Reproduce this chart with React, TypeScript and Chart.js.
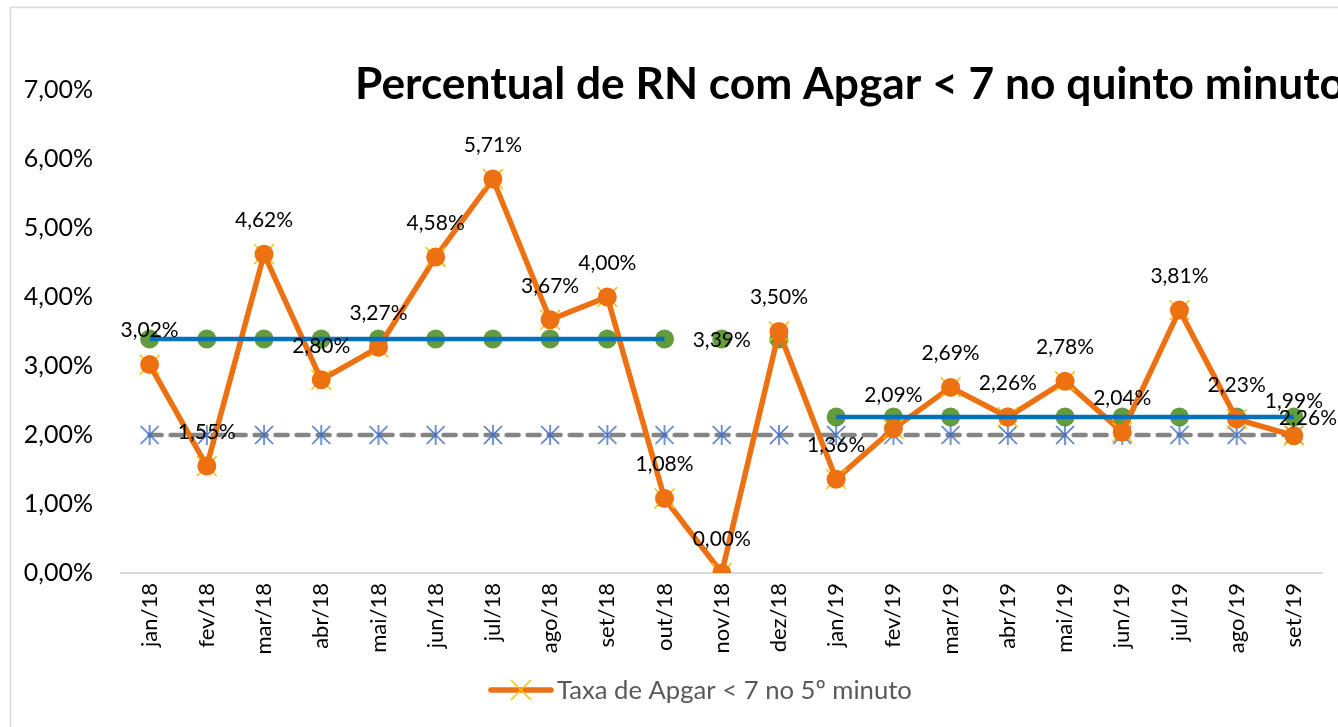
import React, { useEffect, useRef } from 'react';
import { Chart, registerables } from 'chart.js';

Chart.register(...registerables);

const FONT = 'Lato, "Open Sans", "DejaVu Sans", sans-serif';

const categories = [
  'jan/18', 'fev/18', 'mar/18', 'abr/18', 'mai/18', 'jun/18', 'jul/18', 'ago/18', 'set/18', 'out/18', 'nov/18', 'dez/18',
  'jan/19', 'fev/19', 'mar/19', 'abr/19', 'mai/19', 'jun/19', 'jul/19', 'ago/19', 'set/19',
];

const taxaApgar = [3.02, 1.55, 4.62, 2.80, 3.27, 4.58, 5.71, 3.67, 4.00, 1.08, 0.00, 3.50, 1.36, 2.09, 2.69, 2.26, 2.78, 2.04, 3.81, 2.23, 1.99];

const mediaPontos = [3.39, 3.39, 3.39, 3.39, 3.39, 3.39, 3.39, 3.39, 3.39, 3.39, 3.39, 3.39, 2.26, 2.26, 2.26, 2.26, 2.26, 2.26, 2.26, 2.26, 2.26];

const mediaLinha = [3.39, 3.39, 3.39, 3.39, 3.39, 3.39, 3.39, 3.39, 3.39, 3.39, null, null, 2.26, 2.26, 2.26, 2.26, 2.26, 2.26, 2.26, 2.26, 2.26];

const meta = [2, 2, 2, 2, 2, 2, 2, 2, 2, 2, 2, 2, 2, 2, 2, 2, 2, 2, 2, 2, 2];

const yTickValues = [0, 1, 2, 3, 4, 5, 6, 7];

const TITLE = 'Percentual de RN com Apgar < 7 no quinto minuto';
const LEGEND_LABEL = 'Taxa de Apgar < 7 no 5º minuto';

const ORANGE = '#ED7011';
const GREEN = '#649B3D';
const BLUE = '#0070C0';
const GRAY = '#858585';
const STAR_BLUE = '#4472C4';
const YELLOW = '#FFC000';

const fmt = (v: number) => v.toFixed(2).replace('.', ',') + '%';

function makeAsterisk(): HTMLCanvasElement {
  const c = document.createElement('canvas');
  c.width = 22;
  c.height = 22;
  const g = c.getContext('2d')!;
  g.strokeStyle = STAR_BLUE;
  g.lineWidth = 1.5;
  g.beginPath();
  g.moveTo(11, 1); g.lineTo(11, 21);
  g.moveTo(2, 2); g.lineTo(20, 20);
  g.moveTo(20, 2); g.lineTo(2, 20);
  g.stroke();
  return c;
}

const framePlugin = {
  id: 'frame',
  beforeDraw(chart: any) {
    const ctx = chart.ctx;
    ctx.save();
    ctx.fillStyle = '#ffffff';
    ctx.fillRect(0, 0, chart.width, chart.height);
    ctx.strokeStyle = '#D9D9D9';
    ctx.lineWidth = 1.5;
    ctx.strokeRect(10.5, 7.5, 3000, 3000);
    ctx.restore();
  },
  afterDraw(chart: any) {
    const ctx = chart.ctx;
    ctx.save();
    // title
    ctx.font = `bold 100px ${FONT}`;
    const tw = ctx.measureText(TITLE).width;
    const tSize = (100 * 990) / tw;
    ctx.font = `bold ${tSize}px ${FONT}`;
    ctx.fillStyle = '#000000';
    ctx.textAlign = 'left';
    ctx.textBaseline = 'alphabetic';
    ctx.fillText(TITLE, 355, 99);
    // legend
    const ly = 690;
    ctx.strokeStyle = ORANGE;
    ctx.lineWidth = 5.5;
    ctx.lineCap = 'round';
    ctx.beginPath();
    ctx.moveTo(491, ly);
    ctx.lineTo(551, ly);
    ctx.stroke();
    ctx.strokeStyle = YELLOW;
    ctx.lineWidth = 1.5;
    ctx.lineCap = 'butt';
    ctx.beginPath();
    ctx.moveTo(511, ly - 10); ctx.lineTo(531, ly + 10);
    ctx.moveTo(531, ly - 10); ctx.lineTo(511, ly + 10);
    ctx.stroke();
    ctx.font = `100px ${FONT}`;
    const lw = ctx.measureText(LEGEND_LABEL).width;
    const lSize = (100 * 355) / lw;
    ctx.font = `${lSize}px ${FONT}`;
    ctx.fillStyle = '#595959';
    ctx.textBaseline = 'middle';
    ctx.fillText(LEGEND_LABEL, 557, ly + 1);
    ctx.restore();
  },
};

const dataLabelPlugin = {
  id: 'dataLabels',
  afterDatasetsDraw(chart: any, _args: any, opts: any) {
    const ctx = chart.ctx;
    ctx.save();
    ctx.font = `21px ${FONT}`;
    ctx.fillStyle = '#000000';
    ctx.textAlign = 'center';
    ctx.textBaseline = 'middle';
    (opts.specs || []).forEach((spec: any) => {
      const meta = chart.getDatasetMeta(spec.dataset);
      const data = chart.data.datasets[spec.dataset].data;
      meta.data.forEach((pt: any, i: number) => {
        if (spec.indices && !spec.indices.includes(i)) return;
        const v = data[i];
        if (v === null || v === undefined) return;
        const dx = (spec.dx && spec.dx[i]) || 0;
        ctx.fillText(fmt(v), pt.x + dx, pt.y + spec.dy);
      });
    });
    ctx.restore();
  },
};

export default function App() {
  const ref = useRef<HTMLCanvasElement>(null);

  useEffect(() => {
    let chart: Chart | null = null;
    let cancelled = false;

    const build = () => {
      if (cancelled || !ref.current) return;
      const asterisk = makeAsterisk();
      chart = new Chart(ref.current, {
        type: 'line',
        data: {
          labels: categories,
          datasets: [
            {
              label: 'Média do período',
              data: mediaLinha,
              borderColor: BLUE,
              borderWidth: 4.5,
              pointRadius: 0,
              spanGaps: false,
              fill: false,
              order: 0,
            },
            {
              label: 'Taxa (marcador)',
              data: taxaApgar,
              showLine: false,
              pointStyle: 'circle',
              pointRadius: 9.5,
              pointBackgroundColor: ORANGE,
              pointBorderColor: ORANGE,
              pointBorderWidth: 0,
              order: 1,
            },
            {
              label: LEGEND_LABEL,
              data: taxaApgar,
              borderColor: ORANGE,
              borderWidth: 5.5,
              tension: 0,
              pointStyle: 'crossRot',
              pointRadius: 14,
              pointBorderColor: YELLOW,
              pointBorderWidth: 1.5,
              fill: false,
              order: 2,
            },
            {
              label: 'Meta',
              data: meta,
              borderColor: GRAY,
              borderWidth: 4.5,
              borderDash: [12, 9],
              borderCapStyle: 'round',
              pointStyle: asterisk as any,
              pointRadius: 11,
              fill: false,
              order: 3,
            },
            {
              label: 'Média',
              data: mediaPontos,
              showLine: false,
              pointStyle: 'circle',
              pointRadius: 9.5,
              pointBackgroundColor: GREEN,
              pointBorderColor: GREEN,
              pointBorderWidth: 0,
              order: 4,
            },
          ],
        },
        options: {
          responsive: false,
          animation: false,
          devicePixelRatio: 1,
          layout: { padding: { left: 0, top: 90, right: 10, bottom: 0 } },
          plugins: {
            legend: { display: false },
            title: { display: false },
            tooltip: { enabled: false },
            dataLabels: {
              specs: [
                { dataset: 2, dy: -34 },
                { dataset: 4, dy: 1, indices: [10, 20], dx: { 20: 14 } },
              ],
            },
          } as any,
          scales: {
            x: {
              type: 'category',
              offset: true,
              grid: { display: false, drawTicks: false },
              border: { display: true, color: '#D9D9D9', width: 2 },
              ticks: {
                autoSkip: false,
                minRotation: 90,
                maxRotation: 90,
                padding: 10,
                color: '#000000',
                font: { family: FONT, size: 22 },
              },
              afterFit: (s: any) => { s.height = 154; },
            },
            y: {
              min: yTickValues[0],
              max: yTickValues[yTickValues.length - 1],
              grid: { display: false, drawTicks: false },
              border: { display: false },
              afterBuildTicks: (s: any) => { s.ticks = yTickValues.map((v) => ({ value: v })); },
              ticks: {
                padding: 28,
                color: '#000000',
                font: { family: FONT, size: 25 },
                callback: (v: any) => fmt(Number(v)),
              },
              afterFit: (s: any) => { s.width = 121; },
            },
          },
        },
        plugins: [framePlugin, dataLabelPlugin],
      });
    };

    Promise.all([
      document.fonts.load(`bold 40px Lato`),
      document.fonts.load(`24px Lato`),
    ])
      .catch(() => undefined)
      .then(build);

    return () => {
      cancelled = true;
      if (chart) chart.destroy();
    };
  }, []);

  return (
    <div style={{ position: 'fixed', left: 0, top: 0, width: 1338, height: 727, overflow: 'hidden', background: '#ffffff' }}>
      <canvas ref={ref} width={1338} height={727} style={{ display: 'block' }} />
    </div>
  );
}
